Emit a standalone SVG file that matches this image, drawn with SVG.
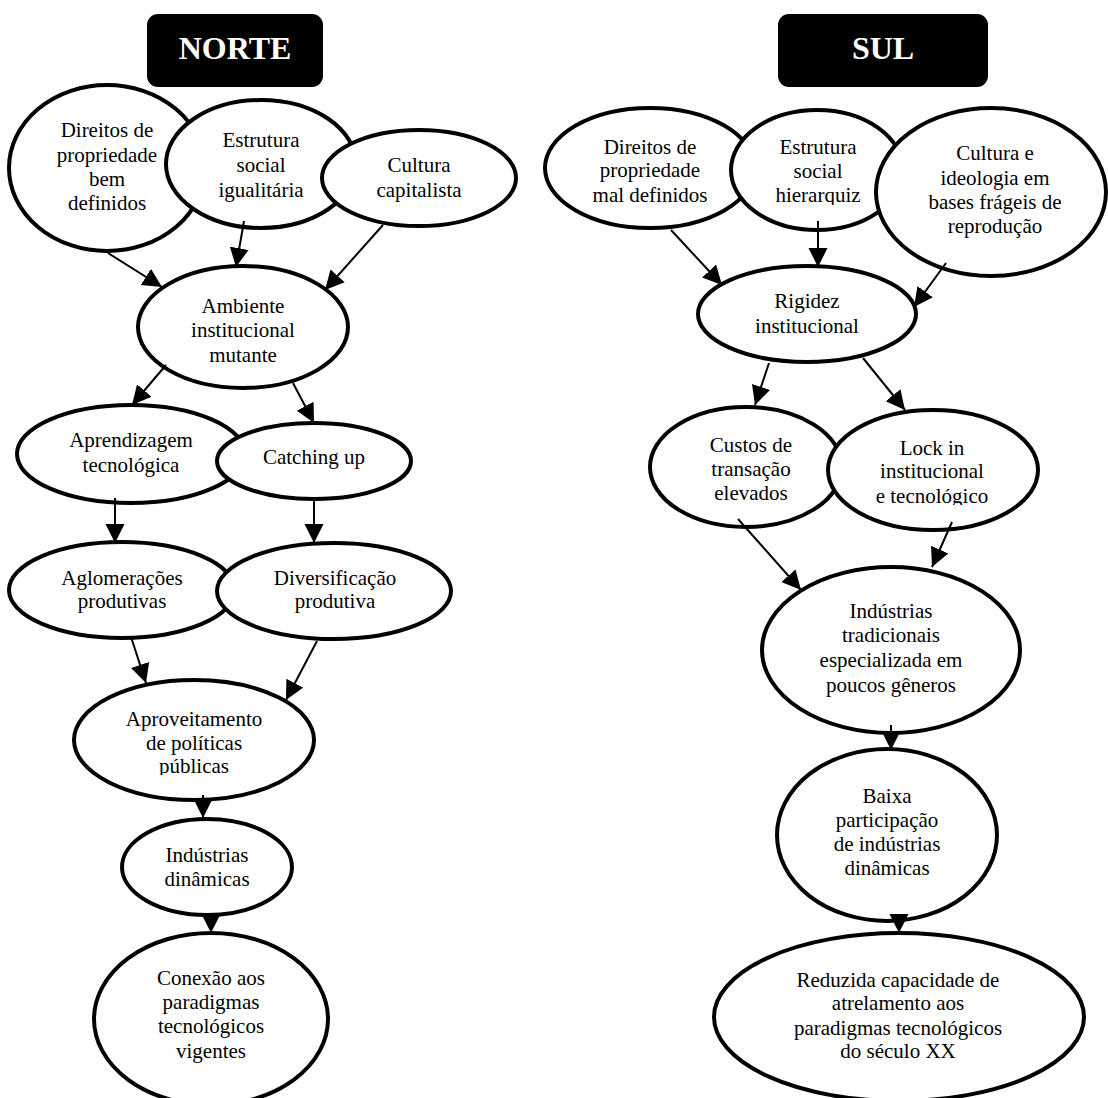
<svg xmlns="http://www.w3.org/2000/svg" width="1108" height="1098" viewBox="0 0 1108 1098">
<style>
.n{fill:#fff;stroke:#000;stroke-width:4}
.t{font-family:"Liberation Serif","Times New Roman",serif;font-size:21px;fill:#000;text-anchor:middle}
.h{font-family:"Liberation Serif","Times New Roman",serif;font-size:32px;font-weight:bold;fill:#fff;text-anchor:middle}
.c line{stroke:#000;stroke-width:2;marker-end:url(#ah)}
</style>
<defs>
<marker id="ah" markerUnits="userSpaceOnUse" markerWidth="20" markerHeight="20" refX="19" refY="9.5" orient="auto" viewBox="0 0 20 19">
<path d="M0,0 L19,9.5 L0,19 z" fill="#000"/>
</marker>
<clipPath id="clipApv"><rect x="60" y="690" width="270" height="85"/></clipPath>
<clipPath id="clipE2"><rect x="720" y="120" width="200" height="85"/></clipPath>
<clipPath id="clipLock"><rect x="820" y="420" width="220" height="85"/></clipPath>
</defs>
<rect width="1108" height="1098" fill="#fff"/>

<g id="norte-title"><rect x="147" y="14" width="176" height="73" rx="11" fill="#000"/><text class="h" x="235" y="59">NORTE</text></g>
<g id="sul-title"><rect x="778" y="14" width="210" height="73" rx="11" fill="#000"/><text class="h" x="883" y="59">SUL</text></g>

<g id="n-direitos"><ellipse class="n" cx="107" cy="168" rx="98" ry="83"/>
<text class="t"><tspan x="107" y="137">Direitos de</tspan><tspan x="107" y="162">propriedade</tspan><tspan x="107" y="186">bem</tspan><tspan x="107" y="210">definidos</tspan></text></g>
<g id="n-estrutura"><ellipse class="n" cx="261" cy="164" rx="95" ry="64"/>
<text class="t"><tspan x="261" y="147">Estrutura</tspan><tspan x="261" y="172">social</tspan><tspan x="261" y="197">igualitária</tspan></text></g>
<g id="n-cultura"><ellipse class="n" cx="419" cy="178" rx="97" ry="48"/>
<text class="t"><tspan x="419" y="172">Cultura</tspan><tspan x="419" y="197">capitalista</tspan></text></g>
<g id="n-ambiente"><ellipse class="n" cx="243" cy="327" rx="105" ry="61"/>
<text class="t"><tspan x="243" y="313">Ambiente</tspan><tspan x="243" y="337">institucional</tspan><tspan x="243" y="362">mutante</tspan></text></g>
<g id="n-aprendizagem"><ellipse class="n" cx="131" cy="454" rx="114" ry="49"/>
<text class="t"><tspan x="131" y="447">Aprendizagem</tspan><tspan x="131" y="472">tecnológica</tspan></text></g>
<g id="n-catching"><ellipse class="n" cx="314" cy="461" rx="97" ry="38"/>
<text class="t" x="314" y="464">Catching up</text></g>
<g id="n-aglomeracoes"><ellipse class="n" cx="122" cy="590" rx="113" ry="48"/>
<text class="t"><tspan x="122" y="585">Aglomerações</tspan><tspan x="122" y="608">produtivas</tspan></text></g>
<g id="n-diversificacao"><ellipse class="n" cx="334" cy="591" rx="117" ry="48"/>
<text class="t"><tspan x="335" y="585">Diversificação</tspan><tspan x="335" y="608">produtiva</tspan></text></g>
<g id="n-aproveitamento"><ellipse class="n" cx="194" cy="740" rx="120" ry="60"/>
<text class="t" clip-path="url(#clipApv)"><tspan x="194" y="726">Aproveitamento</tspan><tspan x="194" y="750">de políticas</tspan><tspan x="194" y="773">públicas</tspan></text></g>
<g id="n-industrias"><ellipse class="n" cx="207" cy="867" rx="85" ry="48"/>
<text class="t"><tspan x="207" y="862">Indústrias</tspan><tspan x="207" y="886">dinâmicas</tspan></text></g>
<g id="n-conexao"><ellipse class="n" cx="211" cy="1019" rx="117" ry="86"/>
<text class="t"><tspan x="211" y="985">Conexão aos</tspan><tspan x="211" y="1009">paradigmas</tspan><tspan x="211" y="1033">tecnológicos</tspan><tspan x="211" y="1058">vigentes</tspan></text></g>

<g id="s-direitos"><ellipse class="n" cx="650" cy="168" rx="105" ry="60"/>
<text class="t"><tspan x="650" y="154">Direitos de</tspan><tspan x="650" y="177">propriedade</tspan><tspan x="650" y="202">mal definidos</tspan></text></g>
<g id="s-estrutura"><ellipse class="n" cx="817" cy="170" rx="86" ry="60"/>
<text class="t" clip-path="url(#clipE2)"><tspan x="818" y="154">Estrutura</tspan><tspan x="818" y="178">social</tspan><tspan x="818" y="202">hierarquiz</tspan></text></g>
<g id="s-cultura"><ellipse class="n" cx="991" cy="192" rx="115" ry="84"/>
<text class="t"><tspan x="995" y="160">Cultura e</tspan><tspan x="995" y="185">ideologia em</tspan><tspan x="995" y="209">bases frágeis de</tspan><tspan x="995" y="233">reprodução</tspan></text></g>
<g id="s-rigidez"><ellipse class="n" cx="807" cy="314" rx="109" ry="48"/>
<text class="t"><tspan x="807" y="308">Rigidez</tspan><tspan x="807" y="333">institucional</tspan></text></g>
<g id="s-custos"><ellipse class="n" cx="746" cy="467" rx="96" ry="60"/>
<text class="t"><tspan x="751" y="452">Custos de</tspan><tspan x="751" y="476">transação</tspan><tspan x="751" y="500">elevados</tspan></text></g>
<g id="s-lockin"><ellipse class="n" cx="933" cy="470" rx="105" ry="60"/>
<text class="t" clip-path="url(#clipLock)"><tspan x="932" y="455">Lock in</tspan><tspan x="932" y="478">institucional</tspan><tspan x="932" y="503">e tecnológico</tspan></text></g>
<g id="s-industrias"><ellipse class="n" cx="891" cy="650" rx="129" ry="83"/>
<text class="t"><tspan x="891" y="618">Indústrias</tspan><tspan x="891" y="642">tradicionais</tspan><tspan x="891" y="667">especializada em</tspan><tspan x="891" y="692">poucos gêneros</tspan></text></g>
<g id="s-baixa"><ellipse class="n" cx="887" cy="835" rx="110" ry="86"/>
<text class="t"><tspan x="887" y="803">Baixa</tspan><tspan x="887" y="827">participação</tspan><tspan x="887" y="851">de indústrias</tspan><tspan x="887" y="875">dinâmicas</tspan></text></g>
<g id="s-reduzida"><ellipse class="n" cx="899" cy="1017" rx="185" ry="84"/>
<text class="t"><tspan x="898" y="987">Reduzida capacidade de</tspan><tspan x="898" y="1010">atrelamento aos</tspan><tspan x="898" y="1035">paradigmas tecnológicos</tspan><tspan x="898" y="1058">do século XX</tspan></text></g>

<g id="connectors" class="c">
<line x1="108" y1="253" x2="162" y2="287"/>
<line x1="244" y1="221" x2="236" y2="267"/>
<line x1="383" y1="225" x2="325" y2="290"/>
<line x1="166" y1="365" x2="132" y2="405"/>
<line x1="293" y1="383" x2="314" y2="423"/>
<line x1="115" y1="498" x2="115" y2="543"/>
<line x1="314" y1="500" x2="314" y2="543"/>
<line x1="131" y1="637" x2="146" y2="683"/>
<line x1="317" y1="641" x2="286" y2="700"/>
<line x1="203" y1="795" x2="203" y2="818"/>
<line x1="211" y1="916" x2="211" y2="933"/>
<line x1="671" y1="230" x2="722" y2="285"/>
<line x1="818" y1="221" x2="818" y2="267"/>
<line x1="946" y1="263" x2="914" y2="307"/>
<line x1="769" y1="363" x2="755" y2="405"/>
<line x1="863" y1="358" x2="905" y2="410"/>
<line x1="738" y1="519" x2="801" y2="590"/>
<line x1="952" y1="522" x2="932" y2="567"/>
<line x1="891" y1="725" x2="891" y2="750"/>
<line x1="899" y1="920" x2="899" y2="933"/>
</g>
</svg>
